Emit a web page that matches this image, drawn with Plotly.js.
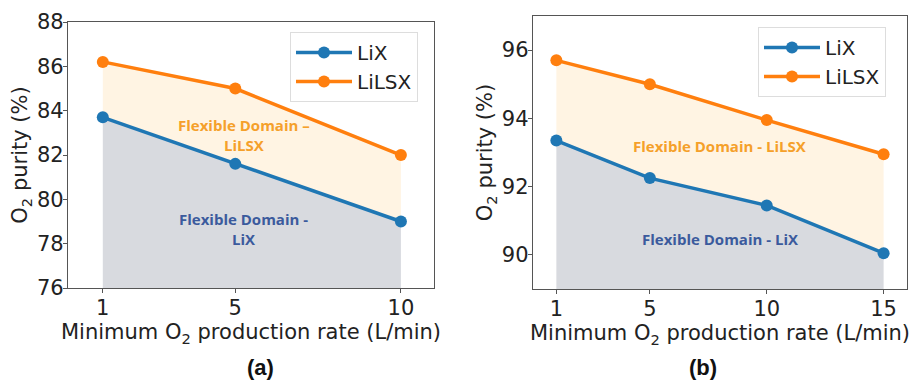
<!DOCTYPE html>
<html>
<head>
<meta charset="utf-8">
<script src="https://cdn.plot.ly/plotly-3.0.1.min.js"></script>
<style>html,body{margin:0;padding:0;background:#fff;}#chart{width:918px;height:380px;}</style>
</head>
<body>
<div id="chart"></div>
<script>
// Panel (a)
const ratesA = [1, 5, 10];
const lixA = [83.7, 81.6, 79.0];
const lilsxA = [86.2, 85.0, 82.0];
const tickValsA = [1, 5, 10];
// Panel (b)
const ratesB = [1, 5, 10, 15];
const lixB = [93.35, 92.25, 91.45, 90.05];
const lilsxB = [95.7, 95.0, 93.95, 92.95];
const tickValsB = [1, 5, 10, 15];
const yTicksA = [76, 78, 80, 82, 84, 86, 88];
const yTicksB = [90, 92, 94, 96];
const seriesNames = ['LiX', 'LiLSX'];

const BLUE = '#1f77b4', ORANGE = '#ff7f0e';
const GRAYFILL = 'rgb(216,218,223)', ORANGEFILL = 'rgb(255,244,227)';
const tickFont = {family: 'DejaVu Sans', size: 21, color: '#222'};
const titleFont = {family: 'DejaVu Sans', size: 21, color: '#222'};

function fillTraces(x, lo, hi, xa, ya) {
  return [
    {x: x, y: lo, xaxis: xa, yaxis: ya, mode: 'lines', fill: 'tozeroy', fillcolor: GRAYFILL,
     line: {width: 0, color: GRAYFILL}, showlegend: false, hoverinfo: 'skip'},
    {x: x, y: hi, xaxis: xa, yaxis: ya, mode: 'lines', fill: 'tonexty', fillcolor: ORANGEFILL,
     line: {width: 0, color: ORANGEFILL}, showlegend: false, hoverinfo: 'skip'}
  ];
}
function lineTraces(x, lo, hi, xa, ya, leg) {
  return [
    {x: x, y: lo, xaxis: xa, yaxis: ya, name: seriesNames[0], mode: 'lines+markers', legend: leg,
     legendgroup: leg + 'a', line: {color: BLUE, width: 3.5}, marker: {color: BLUE, size: 12}},
    {x: x, y: hi, xaxis: xa, yaxis: ya, name: seriesNames[1], mode: 'lines+markers', legend: leg,
     legendgroup: leg + 'b', line: {color: ORANGE, width: 3.5}, marker: {color: ORANGE, size: 12}}
  ];
}

const data = [
  ...fillTraces(ratesA, lixA, lilsxA, 'x', 'y'),
  ...fillTraces(ratesB, lixB, lilsxB, 'x2', 'y2'),
  ...lineTraces(ratesA, lixA, lilsxA, 'x', 'y', 'legend'),
  ...lineTraces(ratesB, lixB, lilsxB, 'x2', 'y2', 'legend2')
];

function xaxis(domain, range, ticks) {
  return {domain: domain, range: range, tickvals: ticks, ticktext: ticks.map(String),
    showgrid: false, zeroline: false, showline: true, mirror: true, linecolor: '#555', linewidth: 1.2,
    ticks: 'outside', ticklen: 4, tickcolor: '#555', tickfont: tickFont, automargin: false,
    ticklabelstandoff: -3,
    title: {text: 'Minimum O<sub>2</sub> production rate (L/min)', font: titleFont, standoff: 0}};
}
function yaxis(domain, range, ticks, anchor) {
  return {domain: domain, range: range, tickvals: ticks, anchor: anchor,
    showgrid: false, zeroline: false, showline: true, mirror: true, linecolor: '#555', linewidth: 1.2,
    ticks: 'outside', ticklen: 4, tickcolor: '#555', tickfont: tickFont, automargin: false,
    ticklabelstandoff: -5,
    title: {text: 'O<sub>2</sub> purity (%)', font: titleFont, standoff: 3}};
}

const legendStyle = {font: {family: 'DejaVu Sans', size: 20, color: '#222'}, bgcolor: 'rgba(255,255,255,0.9)',
  bordercolor: '#ddd', borderwidth: 1, xanchor: 'left', yanchor: 'top', tracegroupgap: 5,
  traceorder: 'normal', itemwidth: 56};

const annFont = (c) => ({family: 'Open Sans', size: 15, color: c, weight: 'bold'});

const layout = {
  width: 918, height: 380,
  margin: {l: 0, r: 0, t: 0, b: 0},
  paper_bgcolor: '#fff', plot_bgcolor: '#fff',
  xaxis: xaxis([0.0741, 0.4728], [-0.05, 11], tickValsA),
  yaxis: yaxis([0.2421, 0.9421], [76, 88], yTicksA, 'x'),
  xaxis2: Object.assign(xaxis([0.5806, 0.9880], [0, 16], tickValsB), {anchor: 'y2'}),
  yaxis2: yaxis([0.2395, 0.9579], [89, 97], yTicksB, 'x2'),
  legend: Object.assign({x: 290/918, y: 1 - 32/380}, legendStyle),
  legend2: Object.assign({x: 758/918, y: 1 - 27/380}, legendStyle),
  annotations: [
    {xref: 'x', yref: 'y', x: 5.26, y: 82.9, text: '<b>Flexible Domain –<br>LiLSX</b>', showarrow: false,
     font: annFont('#f5a02a')},
    {xref: 'x', yref: 'y', x: 5.26, y: 78.66, text: '<b>Flexible Domain -<br>LiX</b>', showarrow: false,
     font: annFont('#3b5a9d')},
    {xref: 'x2', yref: 'y2', x: 8.0, y: 93.19, text: '<b>Flexible Domain - LiLSX</b>', showarrow: false,
     font: annFont('#f5a02a')},
    {xref: 'x2', yref: 'y2', x: 8.0, y: 90.47, text: '<b>Flexible Domain - LiX</b>', showarrow: false,
     font: annFont('#3b5a9d')},
    {xref: 'paper', yref: 'paper', x: 260/918, y: 1 - 367/380, xanchor: 'center', yanchor: 'middle',
     text: '<b>(a)</b>', showarrow: false, font: {family: 'Liberation Sans', size: 22, color: '#111'}},
    {xref: 'paper', yref: 'paper', x: 703/918, y: 1 - 367/380, xanchor: 'center', yanchor: 'middle',
     text: '<b>(b)</b>', showarrow: false, font: {family: 'Liberation Sans', size: 22, color: '#111'}}
  ]
};

Plotly.newPlot('chart', data, layout, {displayModeBar: false, staticPlot: true});
</script>
</body>
</html>
